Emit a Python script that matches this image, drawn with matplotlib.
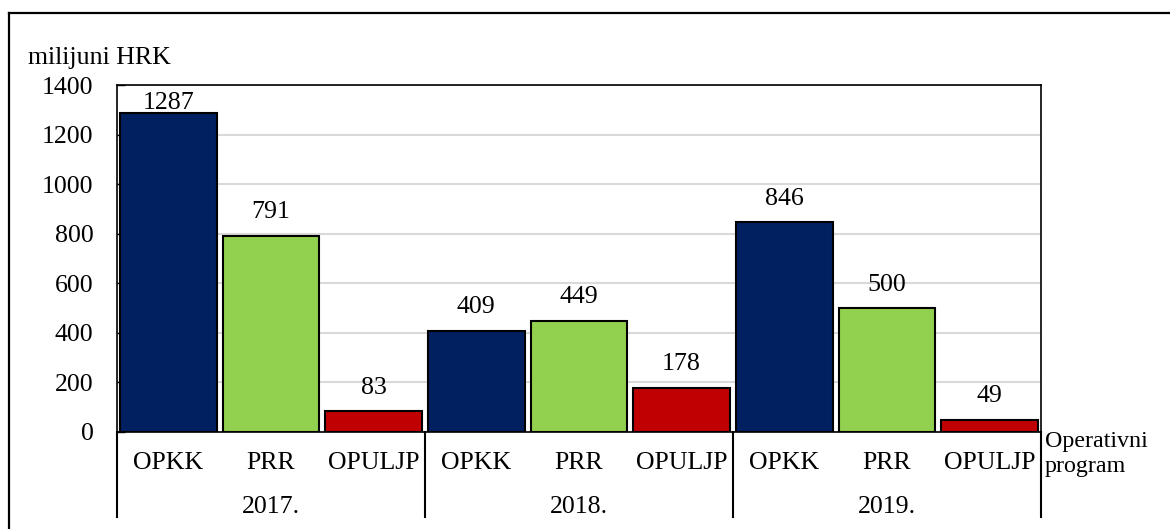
import matplotlib.pyplot as plt
from matplotlib.lines import Line2D

plt.rcParams["font.family"] = ["Liberation Serif", "DejaVu Serif"]

years = ["2017.", "2018.", "2019."]
programs = ["OPKK", "PRR", "OPULJP"]
values = [1287, 791, 83, 409, 449, 178, 846, 500, 49]
colors = ["#002060", "#92D050", "#C00000"]

FS = 18.6

fig = plt.figure(figsize=(11.7, 5.29), dpi=100)
ax = fig.add_axes([117 / 1170, 1 - 432 / 529, (1041 - 117) / 1170, (432 - 85) / 529])

x = list(range(len(values)))
bar_colors = [colors[i % 3] for i in x]
ax.bar(x, values, width=0.94, color=bar_colors, edgecolor="black", linewidth=1.5, zorder=3)

ax.set_xlim(-0.5, len(values) - 0.5)
ax.set_ylim(0, 1400)
ax.set_yticks(range(0, 1401, 200))
ax.yaxis.grid(True, color="#D9D9D9", linewidth=1.5, zorder=0)
ax.set_axisbelow(True)
ax.tick_params(axis="y", direction="in", length=6, width=1, pad=17, labelsize=FS)
ax.set_xticks([])
for s in ax.spines.values():
    s.set_linewidth(1.2)
    s.set_color("black")

# value labels (Excel keeps the tallest one inside the plot area)
for xi, v in zip(x, values):
    if v > 1250:
        ax.annotate(str(v), (xi, 1400), xytext=(0, -5), textcoords="offset points",
                    ha="center", va="top", fontsize=FS, zorder=4)
    else:
        ax.annotate(str(v), (xi, v), xytext=(0, 9), textcoords="offset points",
                    ha="center", va="bottom", fontsize=FS, zorder=4)

# multi-level category axis
trans = ax.get_xaxis_transform()
for xi in x:
    ax.text(xi, -0.09, programs[xi % 3], transform=trans, ha="center", va="center", fontsize=FS)
for g, yr in enumerate(years):
    ax.text(g * 3 + 1, -0.215, yr, transform=trans, ha="center", va="center", fontsize=FS)
for sep in [-0.5, 2.5, 5.5, 8.5]:
    ax.add_line(Line2D([sep, sep], [0, -0.245], transform=trans, color="black",
                       linewidth=1.5, clip_on=False))

fig.text(28 / 1170, 1 - 58 / 529, "milijuni HRK", ha="left", va="center", fontsize=FS)
fig.text(1045 / 1170, 1 - 454 / 529, "Operativni\nprogram", ha="left", va="center",
         fontsize=17.3, linespacing=1.25)

# outer chart border (only top and left fall inside the picture)
fig.add_artist(Line2D([9 / 1170, 9 / 1170], [0, 1 - 12.5 / 529], color="black", linewidth=1.6))
fig.add_artist(Line2D([9 / 1170, 1], [1 - 12.5 / 529, 1 - 12.5 / 529], color="black", linewidth=1.6))

fig.savefig("out.png", dpi=100)
